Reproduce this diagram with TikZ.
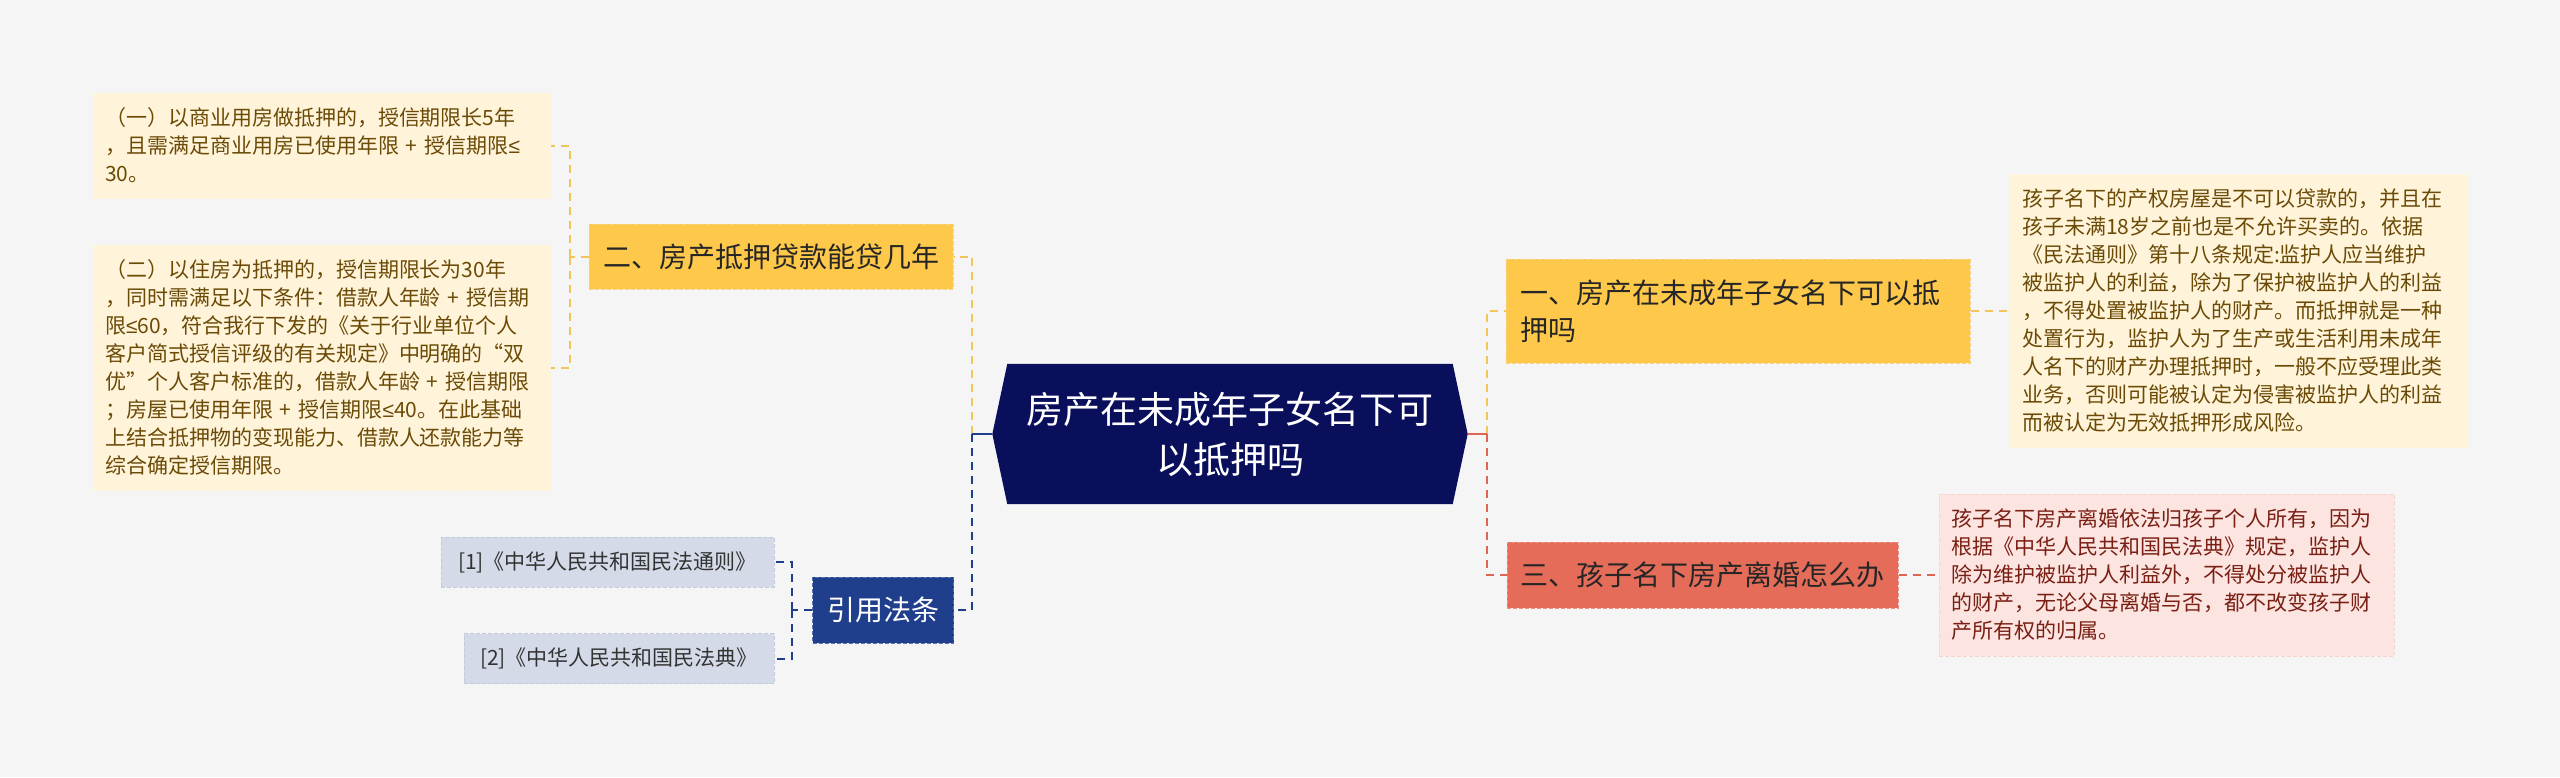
\documentclass[tikz,border=0pt]{standalone}
\usepackage{fontspec}
\setmainfont{Noto Sans CJK SC}
\newfontfamily\leqfont{Liberation Sans}
\newcommand{\leqsign}{{\leqfont ≤}}
\usepackage{tikz}
\usetikzlibrary{positioning,backgrounds}
\definecolor{mapbg}{HTML}{F5F5F5}
\definecolor{rootblue}{HTML}{0A0F5C}
\definecolor{topicyellow}{HTML}{FEC84B}
\definecolor{topicyellowedge}{HTML}{F6D27A}
\definecolor{linkyellowc}{HTML}{F2C55A}
\definecolor{noteyellow}{HTML}{FFF4DA}
\definecolor{noteyellowtext}{HTML}{6B4A06}
\definecolor{topicred}{HTML}{E46C59}
\definecolor{topicrededge}{HTML}{EE8F80}
\definecolor{linkredc}{HTML}{DB6654}
\definecolor{notered}{HTML}{FCE4E0}
\definecolor{noterededge}{HTML}{F7D3CD}
\definecolor{noteredtext}{HTML}{7A1F14}
\definecolor{topicnavy}{HTML}{1F3E8C}
\definecolor{topicnavyedge}{HTML}{5A73B0}
\definecolor{notenavy}{HTML}{D5DAE8}
\definecolor{notenavyedge}{HTML}{C3CADD}
\tikzset{
  linkbase/.style={line width=2pt, dash pattern=on 8pt off 6pt},
  linkyellow/.style={linkbase, draw=linkyellowc},
  linkred/.style={linkbase, draw=linkredc},
  linknavy/.style={linkbase, draw=topicnavy},
  linkstub/.style={line width=2.5pt, solid},
  topicbox/.style={rectangle, draw, line width=1pt, dash pattern=on 4pt off 2pt,
    inner sep=0pt, align=center, font=\fontsize{28}{37}\selectfont},
  notebox/.style={rectangle, draw, line width=1pt, dash pattern=on 4pt off 2pt,
    inner xsep=12pt, inner ysep=0pt, align=left, font=\fontsize{21}{28}\selectfont},
  refbox/.style={notebox, align=center, fill=notenavy, draw=notenavyedge,
    text=black!80, minimum height=50pt},
}
\begin{document}
\begin{tikzpicture}[x=1pt, y=-1pt]
  \useasboundingbox (0,0) rectangle (2560,777);

  % Root topic
  \node[text=white, align=center, minimum width=445pt, minimum height=140pt,
    font=\fontsize{37}{50}\selectfont] (root) at (1230,434)
    {房产在未成年子女名下可\\以抵押吗};
  \coordinate (rootL) at ([xshift=-15pt]root.west);
  \coordinate (rootR) at ([xshift=15pt]root.east);
  \begin{scope}[on background layer]
    \fill[mapbg] (0,0) rectangle (2560,777);
    \fill[rootblue] (root.north west) -- (root.north east) -- (rootR)
      -- (root.south east) -- (root.south west) -- (rootL) -- cycle;
  \end{scope}

  % Left side: loan term
  \node[topicbox, fill=topicyellow, draw=topicyellowedge, text=black!85,
    minimum width=364pt, minimum height=65pt] (br2) at (771,256.5)
    {二、房产抵押贷款能贷几年};
  \node[notebox, fill=noteyellow, draw=noteyellow, text=noteyellowtext,
    text width=433pt, minimum height=105pt] (leafA1) at (321.5,145.5)
    {（一）以商业用房做抵押的，授信期限长5年\\，且需满足商业用房已使用年限 + 授信期限\leqsign\\30。};
  \node[notebox, fill=noteyellow, draw=noteyellow, text=noteyellowtext,
    text width=433pt, minimum height=245pt] (leafA2) at (321.5,367.5)
    {（二）以住房为抵押的，授信期限长为30年\\
     ，同时需满足以下条件：借款人年龄 + 授信期\\
     限\leqsign 60，符合我行下发的《关于行业单位个人\\
     客户简式授信评级的有关规定》中明确的“双\\
     优”个人客户标准的，借款人年龄 + 授信期限\\
     ；房屋已使用年限 + 授信期限\leqsign 40。在此基础\\
     上结合抵押物的变现能力、借款人还款能力等\\
     综合确定授信期限。};

  % Left side: cited laws
  \node[topicbox, fill=topicnavy, draw=topicnavyedge, text=white,
    minimum width=141pt, minimum height=66pt] (cite) at (883,610)
    {引用法条};
  \node[refbox, minimum width=333pt] (ref1) at (607.5,562)
    {[1]《中华人民共和国民法通则》};
  \node[refbox, minimum width=310pt] (ref2) at (619,658.5)
    {[2]《中华人民共和国民法典》};

  % Right side
  \node[topicbox, fill=topicyellow, draw=topicyellowedge, text=black!85,
    align=left, text width=436pt, inner xsep=14pt, minimum height=104pt] (br1) at (1738,311)
    {一、房产在未成年子女名下可以抵\\押吗};
  \node[notebox, fill=noteyellow, draw=noteyellow, text=noteyellowtext,
    text width=433pt, minimum height=273pt] (leafB1) at (2238.5,311)
    {孩子名下的产权房屋是不可以贷款的，并且在\\
     孩子未满18岁之前也是不允许买卖的。依据\\
     《民法通则》第十八条规定:监护人应当维护\\
     被监护人的利益，除为了保护被监护人的利益\\
     ，不得处置被监护人的财产。而抵押就是一种\\
     处置行为，监护人为了生产或生活利用未成年\\
     人名下的财产办理抵押时，一般不应受理此类\\
     业务，否则可能被认定为侵害被监护人的利益\\
     而被认定为无效抵押形成风险。};
  \node[topicbox, fill=topicred, draw=topicrededge, text=black!85,
    minimum width=391pt, minimum height=66pt] (br3) at (1702.5,575)
    {三、孩子名下房产离婚怎么办};
  \node[notebox, fill=notered, draw=noterededge, text=noteredtext,
    text width=431pt, minimum height=162pt] (leafB2) at (2166.5,575)
    {孩子名下房产离婚依法归孩子个人所有，因为\\
     根据《中华人民共和国民法典》规定，监护人\\
     除为维护被监护人利益外，不得处分被监护人\\
     的财产，无论父母离婚与否，都不改变孩子财\\
     产所有权的归属。};

  % Connectors
  \coordinate (jL) at ([xshift=-20pt]rootL);
  \coordinate (jR) at ([xshift=19pt]rootR);
  \draw[linkyellow] (jL) |- (br2.east);
  \draw[linknavy] (jL) |- (cite.east);
  \draw[linkstub, draw=topicnavy] (rootL) -- (jL);
  \draw[linkyellow] (jR) |- (br1.west);
  \draw[linkred] (jR) |- (br3.west);
  \draw[linkstub, draw=linkredc] (rootR) -- (jR);

  \draw[linkyellow] (br2.west) -- ++(-19,0) coordinate (j2);
  \draw[linkyellow] (j2) |- (leafA1.east);
  \draw[linkyellow] (j2) |- (leafA2.east);
  \draw[linknavy] (cite.west) -- ++(-20,0) coordinate (jc);
  \draw[linknavy] (jc) |- (ref1.east);
  \draw[linknavy] (jc) |- (ref2.east);
  \draw[linkyellow] (br1.east) -- (leafB1.west);
  \draw[linkred] (br3.east) -- (leafB2.west);
\end{tikzpicture}
\end{document}
